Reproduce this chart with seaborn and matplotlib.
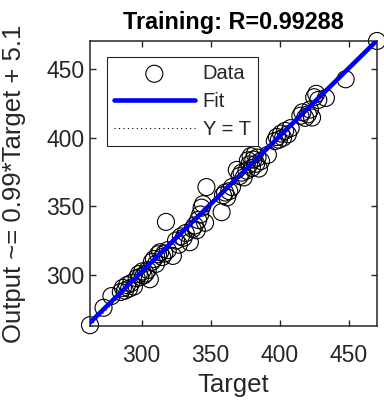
import numpy as np
import pandas as pd
import matplotlib
matplotlib.use("Agg")
import matplotlib.pyplot as plt
import seaborn as sns

# ---- data ----
target = [262.7, 272.5, 278.2, 285.0, 286.5, 288.0, 289.5, 291.0, 292.5, 294.5,
          296.5, 298.0, 299.0, 300.5, 301.5, 303.0, 304.5, 306.0, 307.5, 309.0,
          310.5, 312.0, 313.5, 315.0, 316.5, 317.7, 319.0, 322.7, 325.0, 327.0,
          328.5, 330.5, 332.0, 335.0, 337.0, 338.5, 340.0, 341.0, 342.5, 343.5,
          344.5, 346.0, 347.0, 358.0, 359.0, 360.5, 362.0, 363.5, 365.5, 369.0,
          371.0, 372.5, 374.0, 376.0, 377.0, 378.0, 379.0, 380.0, 381.0, 382.0,
          383.0, 384.0, 385.0, 386.5, 391.5, 396.5, 398.0, 399.5, 401.0, 402.5,
          404.0, 406.0, 408.0, 415.0, 416.5, 418.5, 420.5, 422.0, 423.5, 425.0,
          426.5, 428.0, 433.5, 447.8, 470.5]
output = [263.3, 276.0, 284.5, 287.5, 290.5, 288.5, 292.5, 290.0, 294.0, 291.5,
          297.5, 300.5, 298.5, 302.5, 299.5, 301.0, 303.5, 296.8, 309.5, 311.5,
          308.0, 315.0, 316.5, 313.0, 315.5, 338.6, 318.0, 313.8, 325.0, 322.0,
          328.0, 327.0, 330.5, 323.8, 333.5, 336.0, 332.5, 340.0, 344.0, 349.0,
          351.5, 338.0, 364.0, 345.7, 358.0, 360.0, 356.5, 361.0, 364.0, 376.5,
          372.0, 374.5, 371.0, 376.0, 383.5, 380.5, 386.5, 378.0, 384.0, 388.0,
          381.0, 385.5, 377.5, 383.0, 387.5, 397.5, 400.5, 398.5, 403.0, 400.0,
          405.0, 402.5, 407.0, 416.0, 418.5, 414.5, 417.0, 420.5, 414.7, 429.5,
          432.0, 427.5, 429.0, 442.6, 470.5]
fit_slope = 0.99
fit_intercept = 5.1
axis_limits = [262.7, 470.5]
tick_values = [300, 350, 400, 450]
title_text = "Training: R=0.99288"
xlabel_text = "Target"
ylabel_text = "Output ~= 0.99*Target + 5.1"

df = pd.DataFrame({"Target": target, "Output": output})
line_df = pd.DataFrame({"T": axis_limits,
                        "Fit": [fit_slope * v + fit_intercept for v in axis_limits],
                        "YT": axis_limits})

sns.set_style("ticks", {"xtick.direction": "in", "ytick.direction": "in"})
plt.rcParams["font.family"] = ["Liberation Sans", "DejaVu Sans"]

fig = plt.figure(figsize=(3.84, 4.0), dpi=100)
ax = fig.add_axes([90 / 384, 1 - 326 / 400, (377 - 90) / 384, (326 - 41) / 400])

sns.scatterplot(data=df, x="Target", y="Output", ax=ax, marker="o",
                s=150, facecolors="none", edgecolor="black", linewidth=0.8,
                label="Data", clip_on=False, zorder=2)
sns.lineplot(data=line_df, x="T", y="Fit", ax=ax, color="#0000ff",
             linewidth=3.3, label="Fit", zorder=3)
sns.lineplot(data=line_df, x="T", y="YT", ax=ax, color="black",
             linewidth=0.8, linestyle=(0, (1, 3)), label="Y = T", zorder=4)

ax.set_xlim(axis_limits)
ax.set_ylim(axis_limits)
ax.set_xticks(tick_values)
ax.set_yticks(tick_values)
ax.tick_params(axis="both", which="both", direction="in", length=4, width=1,
               colors="#262626", labelsize=16.5, top=True, right=True)
ax.tick_params(axis="x", pad=13)
ax.tick_params(axis="y", pad=4)
for sp in ax.spines.values():
    sp.set_visible(True)
    sp.set_color("#262626")
    sp.set_linewidth(1.1)

ax.set_title(title_text, fontsize=16.8, fontweight="bold", color="black", pad=9)
ax.set_xlabel(xlabel_text, fontsize=18.5, color="#262626", labelpad=4)
ax.set_ylabel(ylabel_text, fontsize=18.5, color="#262626", labelpad=14.5)

leg = ax.legend(loc="upper left", bbox_to_anchor=(17 / 287, 1 - 16 / 285),
                fontsize=14.5, frameon=True, fancybox=False, framealpha=1,
                edgecolor="#262626", handlelength=4.0, labelspacing=0.45,
                borderaxespad=0, borderpad=0.35, handletextpad=0.4)
leg.get_frame().set_linewidth(0.8)

fig.savefig("out.png", dpi=100)
